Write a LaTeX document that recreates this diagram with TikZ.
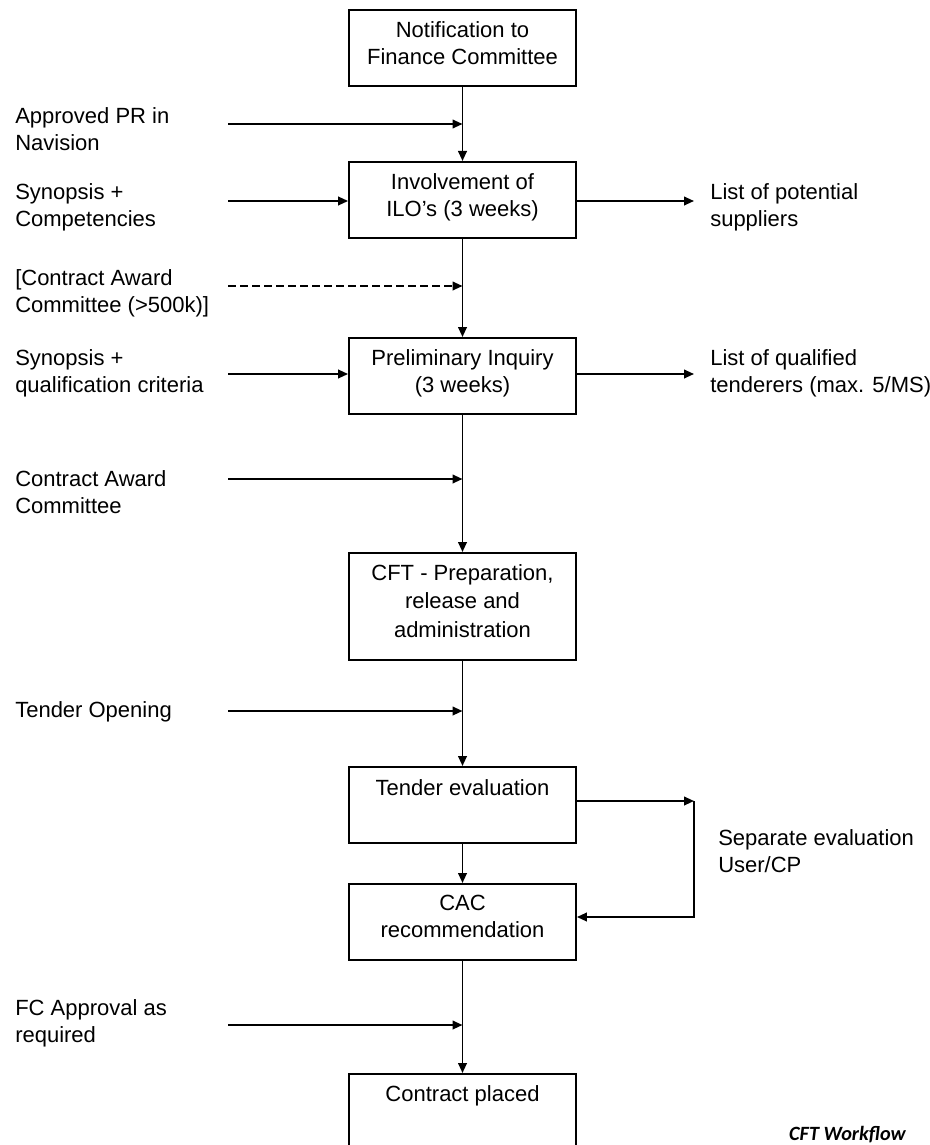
\documentclass[tikz,border=0pt]{standalone}
\usepackage{fontspec}
\setmainfont{Liberation Sans}
\newfontfamily\wffont{Carlito}
\usetikzlibrary{arrows.meta}
\tikzset{
  box/.style={draw, line width=1.4pt, minimum width=170.25pt, minimum height=57pt, inner sep=0pt, anchor=north},
  btxt/.style={anchor=north, align=center, inner sep=0pt, font=\fontsize{16.5pt}{20.25pt}\selectfont},
  stxt/.style={anchor=north west, align=left, inner sep=0pt, font=\fontsize{16.5pt}{20.25pt}\selectfont},
  flow/.style={line width=1.4pt, -{Triangle[length=7.5pt,width=6.5pt]}},
  dflow/.style={flow, dash pattern=on 6pt off 3pt},
}
\begin{document}
\begin{tikzpicture}[x=0.75pt,y=-0.75pt]
\useasboundingbox (0,0) rectangle (930,1145);
\clip (0,0) rectangle (930,1145);
% boxes
\node[box] (b1) at (462.5,9) {};
\node[box] (b2) at (462.5,161) {};
\node[box] (b3) at (462.5,337) {};
\node[box, minimum height=80.25pt] (b4) at (462.5,552) {};
\node[box] (b5) at (462.5,766) {};
\node[box] (b6) at (462.5,883) {};
\node[box, minimum height=80pt] (b7) at (462.5,1073) {};
% box texts
\node[btxt] (b1t) at ([yshift=-9pt]b1.north) {Notification to\\Finance Committee};
\node[btxt] (b2t) at ([yshift=-9pt]b2.north) {Involvement of\\ILO’s (3 weeks)};
\node[btxt] (b3t) at ([yshift=-9pt]b3.north) {Preliminary Inquiry\\(3 weeks)};
\node[btxt, font=\fontsize{16.5pt}{21.5pt}\selectfont] (b4t) at ([yshift=-9pt]b4.north) {CFT - Preparation,\\release and\\administration};
\node[btxt] (b5t) at ([yshift=-10pt]b5.north) {Tender evaluation};
\node[btxt] (b6t) at ([yshift=-9pt]b6.north) {CAC\\recommendation};
\node[btxt] (b7t) at ([yshift=-9pt]b7.north) {Contract placed};
% side texts
\node[stxt] (t1) at (15,107) {Approved PR in\\Navision};
\node[stxt] (t2) at (15,183) {Synopsis +\\Competencies};
\node[stxt] (t3) at (15,269) {[Contract Award\\Committee (>500k)]};
\node[stxt] (t4) at (15,349) {Synopsis +\\qualification criteria};
\node[stxt] (t5) at (15,470) {Contract Award\\Committee};
\node[stxt] (t6) at (15,701) {Tender Opening};
\node[stxt] (t7) at (15,999) {FC Approval as\\required};
\node[stxt] (r1) at (710,183) {List of potential\\suppliers};
\node[stxt] (r2) at (710,349) {List of qualified\\tenderers (max. 5/MS)};
\node[stxt] (r3) at (718,829) {Separate evaluation\\User/CP};
\node[anchor=east, inner sep=0pt, font=\wffont\bfseries\itshape\fontsize{15.2pt}{17pt}\selectfont] (cap) at (906,1135) {CFT Workflow};
% main flow
\draw[flow] (b1.south) -- (b2.north);
\draw[flow] (b2.south) -- (b3.north);
\draw[flow] (b3.south) -- (b4.north);
\draw[flow] (b4.south) -- (b5.north);
\draw[flow] (b5.south) -- (b6.north);
\draw[flow] (b6.south) -- (b7.north);
% inputs
\coordinate (a1) at (228,124);
\coordinate (a2) at (228,201);
\coordinate (a3) at (228,286);
\coordinate (a4) at (228,374);
\coordinate (a5) at (228,479);
\coordinate (a6) at (228,711);
\coordinate (a7) at (228,1025);
\draw[flow] (a1) -- (a1 -| b1.south);
\draw[flow] (a2) -- (a2 -| b2.west);
\draw[dflow] (a3) -- (a3 -| b2.south);
\draw[flow] (a4) -- (a4 -| b3.west);
\draw[flow] (a5) -- (a5 -| b3.south);
\draw[flow] (a6) -- (a6 -| b4.south);
\draw[flow] (a7) -- (a7 -| b6.south);
% outputs
\coordinate (o1) at (694,201);
\coordinate (o2) at (694,374);
\draw[flow] (o1 -| b2.east) -- (o1);
\draw[flow] (o2 -| b3.east) -- (o2);
% loop
\coordinate (l1) at (694,801);
\coordinate (l2) at (694,917);
\draw[flow] (l1 -| b5.east) -- (l1);
\draw[flow] (l1) -- (l2) -- (l2 -| b6.east);
\end{tikzpicture}
\end{document}
